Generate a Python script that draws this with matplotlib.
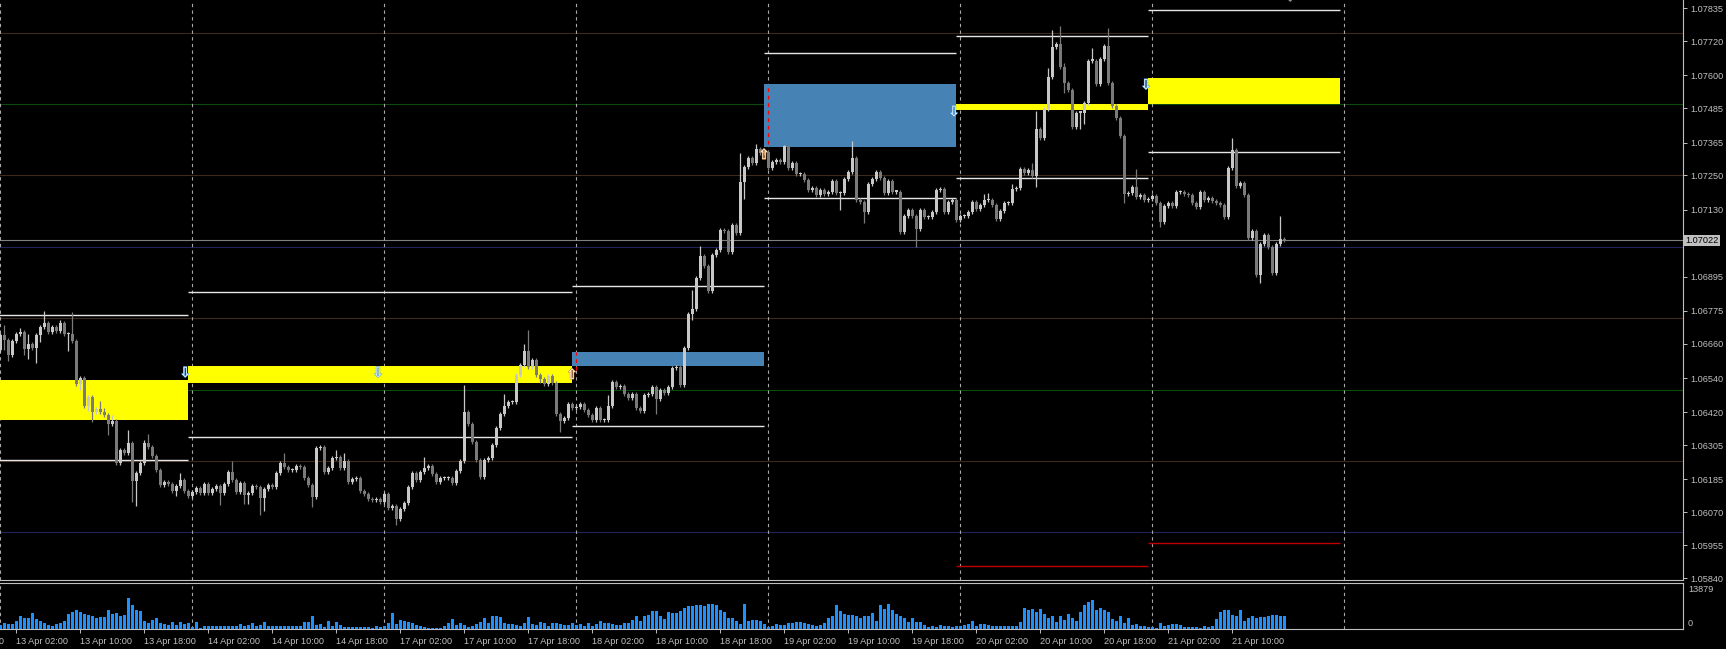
import numpy as np
import matplotlib.pyplot as plt
import matplotlib.patheffects as pe
from matplotlib.transforms import blended_transform_factory

plt.rcParams['font.family'] = ['Liberation Sans', 'DejaVu Sans']

W, H = 1726, 649

# EURUSD M30, closes in pips above 1.0600, open = previous close
base = 1.0600
first_open = 64.0
closes = [
    69.1, 67.5, 62.0, 66.9, 69.6, 70.2, 64.1, 65.9, 64.4, 69.1, 72.0, 73.4, 70.0, 72.0, 70.4, 73.2,
    69.3, 69.3, 66.9, 52.1, 53.9, 44.3, 47.5, 42.2, 43.1, 42.0, 41.0, 38.1, 39.1, 24.4, 28.8, 27.9,
    31.1, 18.0, 20.9, 24.1, 31.1, 30.0, 26.7, 21.8, 16.5, 17.7, 16.9, 14.4, 16.2, 18.3, 14.4, 12.8,
    14.2, 15.4, 13.6, 16.9, 13.6, 15.0, 16.2, 13.6, 16.9, 21.2, 18.3, 14.0, 17.3, 13.0, 13.6, 16.2,
    15.7, 12.1, 15.0, 16.5, 15.9, 20.6, 24.1, 23.0, 21.8, 21.8, 23.3, 22.7, 18.9, 16.5, 12.4, 29.4,
    29.7, 21.2, 22.4, 25.9, 26.5, 22.4, 25.0, 17.7, 18.6, 18.9, 14.4, 13.4, 11.6, 11.3, 11.6, 10.7,
    13.4, 8.6, 9.2, 4.6, 8.1, 10.3, 15.7, 20.6, 18.3, 21.2, 22.4, 23.3, 20.4, 17.7, 19.1, 19.1,
    19.1, 17.3, 21.4, 24.9, 42.0, 38.1, 31.7, 25.3, 19.5, 25.3, 26.1, 30.5, 36.6, 41.4, 44.2, 45.7,
    45.7, 55.0, 58.5, 63.4, 58.0, 60.3, 55.0, 53.6, 52.1, 54.7, 52.4, 41.4, 39.1, 39.9, 45.1, 43.4,
    44.0, 45.1, 42.8, 41.0, 39.3, 43.7, 39.3, 39.3, 44.2, 52.7, 51.0, 51.2, 48.4, 46.9, 48.6, 43.7,
    42.4, 48.0, 48.6, 51.0, 46.6, 49.9, 48.7, 51.0, 57.5, 58.0, 51.6, 64.5, 76.5, 78.1, 89.0, 96.8,
    93.1, 84.5, 97.1, 98.9, 105.9, 105.5, 98.3, 107.6, 104.7, 122.8, 127.8, 131.0, 129.2, 134.2, 132.7, 133.3,
    127.7, 129.8, 130.4, 129.8, 135.1, 127.5, 129.2, 125.5, 125.5, 123.2, 119.7, 120.5, 118.1, 119.9, 118.5, 119.0,
    123.0, 118.7, 118.7, 123.6, 126.0, 131.0, 116.4, 115.5, 112.3, 122.0, 123.6, 126.3, 124.0, 118.7, 123.0, 119.3,
    119.3, 105.0, 110.8, 112.9, 110.6, 106.2, 112.9, 110.3, 110.3, 112.3, 119.9, 120.1, 112.0, 115.8, 116.4, 109.2,
    110.8, 110.8, 112.3, 115.8, 113.1, 114.6, 116.4, 116.4, 114.6, 109.7, 112.6, 115.4, 115.4, 120.2, 120.7, 127.1,
    125.9, 126.9, 124.9, 141.2, 138.0, 148.1, 159.3, 169.8, 171.0, 162.8, 157.2, 154.9, 142.1, 147.0, 147.0, 150.2,
    165.2, 165.2, 157.0, 165.7, 170.3, 157.2, 149.4, 145.2, 138.9, 118.4, 118.7, 121.0, 117.5, 118.2, 116.4, 116.6,
    117.8, 115.2, 108.8, 114.3, 115.2, 114.3, 119.0, 119.0, 118.5, 118.1, 115.2, 114.0, 119.3, 116.4, 117.0, 116.1,
    115.2, 114.6, 110.5, 127.7, 133.9, 121.4, 122.4, 118.1, 103.0, 105.5, 90.1, 101.0, 104.1, 100.0, 90.9, 101.0,
    102.6, 102.2,
]
# longer shadows (pips beyond the body), the rest use typical_wick
upper_wick = {1: 3.5, 5: 1.5, 7: 3.5, 11: 4, 15: 1, 18: 8, 25: 3, 26: 1.6, 28: 2, 32: 4.9, 36: 1.2,
              37: 3.2, 45: 2.3, 58: 3.6, 70: 1, 71: 3.5, 84: 2.3, 86: 2.8, 106: 3.9, 116: 9.6, 126: 4.4,
              131: 2.7, 132: 7.4, 152: 3.9, 173: 6.8, 175: 3.3, 185: 10, 189: 1.8, 213: 6.2, 246: 2.1,
              247: 2.3, 253: 1.8, 258: 2.3, 259: 6.3, 262: 3.2, 263: 6.1, 265: 6.3, 266: 1.6, 273: 4.3,
              277: 6.2, 284: 6.2, 308: 4.3, 320: 8}
lower_wick = {1: 3.7, 2: 2, 6: 2, 7: 3.3, 9: 5, 10: 2.6, 17: 5.7, 20: 2.3, 22: 1.8, 23: 3.5, 27: 3.9,
              33: 7.4, 34: 8.9, 44: 1.8, 55: 3.9, 61: 3.2, 62: 3.2, 65: 6.1, 66: 4.6, 78: 3.7, 99: 1.9,
              135: 1.3, 140: 3.9, 164: 5.2, 173: 2, 186: 6, 210: 6, 216: 4, 229: 6.4, 259: 4.1, 266: 3.5,
              270: 5.8, 271: 3.9, 281: 3.2, 290: 1.8, 315: 2.7}
typical_wick = 0.7

volumes = [
    1270, 1780, 1520, 1520, 2290, 3810, 3430, 3430, 4830, 3050, 2540, 1910, 1270, 1020, 1520, 1780,
    2290, 4570, 5080, 5590, 5080, 4570, 4190, 3810, 3430, 3560, 3560, 5590, 4450, 4830, 3810, 4190,
    9400, 7110, 5840, 5330, 2540, 1910, 2790, 3430, 1910, 1400, 1270, 2160, 1270, 2030, 1400, 1780,
    510, 2030, 380, 760, 760, 760, 760, 760, 760, 1020, 760, 760, 1520, 760, 1270, 1780,
    1020, 1270, 2030, 1020, 1020, 1020, 760, 760, 760, 760, 760, 1020, 2030, 2030, 3810, 1270,
    1520, 510, 2540, 760, 2030, 1270, 510, 510, 510, 510, 510, 510, 510, 250, 760, 510,
    760, 1780, 4830, 1520, 2790, 2290, 2030, 1780, 1270, 760, 640, 380, 380, 380, 380, 1020,
    1780, 3050, 1270, 1780, 1270, 510, 1020, 1520, 2030, 3300, 1780, 3810, 3810, 3560, 1780, 1520,
    1520, 1270, 1020, 1780, 3560, 1520, 1270, 2030, 1780, 1020, 1780, 1780, 1520, 1270, 1270, 1780,
    1270, 1520, 1020, 1780, 1020, 1520, 2290, 1780, 1780, 1520, 1270, 1270, 1780, 1780, 2790, 3810,
    2540, 3810, 4320, 5330, 5330, 3810, 3050, 5080, 4830, 4830, 5330, 6350, 6860, 6860, 7110, 7370,
    6860, 7620, 7620, 7110, 5840, 5080, 3300, 3300, 2290, 1520, 7620, 2290, 2790, 2790, 2540, 1520,
    510, 760, 1520, 1270, 1270, 1780, 1780, 2030, 2030, 1780, 1520, 1270, 1020, 1270, 1780, 3300,
    4060, 7110, 5330, 4570, 4320, 4320, 4060, 3300, 3810, 3810, 4830, 2540, 7370, 6100, 7620, 5590,
    4570, 4060, 3300, 2030, 3300, 2030, 2030, 1270, 510, 760, 510, 1270, 1020, 760, 510, 1020,
    760, 1270, 1520, 2290, 1020, 1520, 1520, 1270, 1020, 760, 760, 760, 760, 760, 1020, 2030,
    6350, 5590, 6100, 5080, 6100, 4570, 3300, 3810, 2030, 3810, 2790, 4570, 3300, 2540, 5080, 7370,
    8130, 8890, 5840, 6350, 5590, 5080, 3050, 2540, 4060, 1780, 3300, 1270, 1520, 760, 760, 510,
    510, 250, 1780, 1020, 1270, 1520, 1520, 1270, 510, 510, 510, 510, 250, 760, 510, 1020,
    3050, 5080, 5590, 5590, 4320, 3810, 5590, 2540, 3300, 3810, 3300, 3560, 3560, 3810, 4320, 4320,
    3810, 4060,
]
vol_max = 13879

day_starts = [0, 48, 96, 144, 192, 240, 288, 336]
label_bars = [-12, 4, 20, 36, 52, 68, 84, 100, 116, 132, 148, 164, 180, 196, 212, 228, 244, 260, 276, 292, 308]
label_text = ['12 Apr 18:00', '13 Apr 02:00', '13 Apr 10:00', '13 Apr 18:00', '14 Apr 02:00', '14 Apr 10:00',
              '14 Apr 18:00', '17 Apr 02:00', '17 Apr 10:00', '17 Apr 18:00', '18 Apr 02:00', '18 Apr 10:00',
              '18 Apr 18:00', '19 Apr 02:00', '19 Apr 10:00', '19 Apr 18:00', '20 Apr 02:00', '20 Apr 10:00',
              '20 Apr 18:00', '21 Apr 02:00', '21 Apr 10:00']

price_ticks = [1.07835, 1.07720, 1.07600, 1.07485, 1.07365, 1.07250, 1.07130, 1.06895, 1.06775,
               1.06660, 1.06540, 1.06420, 1.06305, 1.06185, 1.06070, 1.05955, 1.05840]
current_price = 1.07022

levels_brown = [1.0775, 1.0725, 1.0675, 1.0625]
levels_green = [1.0750, 1.0650]
levels_navy = [1.0700, 1.0600]

# daily boxes (bar range), previous range lines and zones
seg_edges = [-1, 46.9, 142.9, 190.9, 238.9, 286.9, 334.9]
seg_high = [1.06760, 1.06843, 1.06862, 1.07679, 1.07737, 1.07828]
seg_low = [1.06252, 1.06333, 1.06372, 1.07170, 1.07240, 1.07331]
zone_top = [1.06533, 1.06582, 1.06632, 1.07570, 1.07499, 1.07591]
zone_bot = [1.06393, 1.06524, 1.06583, 1.07349, 1.07479, 1.07500]
zone_color = ['#ffff00', '#ffff00', '#4682b4', '#4682b4', '#ffff00', '#ffff00']
red_level = {4: 1.05882, 5: 1.05963}
red_marks = [(143.9, 1.06632, 1.06570), (191.9, 1.07570, 1.07360)]

arrow_bar = [46.2, 94.4, 142.9, 190.9, 238.4, 286.4]
arrow_price = [1.06558, 1.06558, 1.06551, 1.07321, 1.07472, 1.07566]
arrow_up = [False, False, True, True, False, False]

# ---------------------------------------------------------------
axis_col = '#c0c0c0'
fig = plt.figure(figsize=(W / 100, H / 100), dpi=100, facecolor='black')
ax = fig.add_axes([0, 69 / H, 1683 / W, 580 / H], facecolor='black')
axv = fig.add_axes([0, 20 / H, 1683 / W, 46 / H], facecolor='black')

xmin, xmax = -0.1, -0.1 + 1683 / 4
for a in (ax, axv):
    a.set_xlim(xmin, xmax)
    for s in a.spines.values():
        s.set_color(axis_col)
        s.set_linewidth(0.8)
    a.spines['left'].set_visible(False)
ax.spines['top'].set_visible(False)
ax.set_ylim(1.05833, 1.07864)
axv.set_ylim(0, vol_max)

# round levels
for lv in levels_brown:
    ax.axhline(lv, color='#3c2a1c', lw=0.8, zorder=1)
for lv in levels_green:
    ax.axhline(lv, color='#0c4a0c', lw=0.8, zorder=1)
for lv in levels_navy:
    ax.axhline(lv, color='#24245a', lw=0.8, zorder=1)
ax.axhline(current_price, color='#808080', lw=0.8, zorder=1)

# zones and range lines
for i in range(len(seg_high)):
    x0, x1 = seg_edges[i], seg_edges[i + 1]
    ax.fill_between([x0, x1], zone_bot[i], zone_top[i], color=zone_color[i], lw=0, zorder=2)
    ax.hlines([seg_high[i], seg_low[i]], x0, x1, color='#e6e6e6', lw=1.0, zorder=3)
    if i in red_level:
        ax.hlines(red_level[i], x0, x1, color='#c00000', lw=1.0, zorder=3)
for xb, y0, y1 in red_marks:
    ax.vlines(xb, y1, y0, color='#ff0000', lw=0.9, linestyles=(0, (3, 3)), zorder=3)

# day separators
for a in (ax, axv):
    for d in day_starts:
        a.axvline(d, color='#a8a8a8', lw=0.8, ls=(0, (3, 3)), zorder=1.5)

# candles
c = base + np.array(closes) / 1e4
o = np.r_[base + first_open / 1e4, c[:-1]]
n = len(c)
x = np.arange(n)
uw = np.array([upper_wick.get(i, typical_wick) for i in range(n)]) / 1e4
lw_ = np.array([lower_wick.get(i, typical_wick) for i in range(n)]) / 1e4
hi = np.maximum(o, c) + uw
lo = np.minimum(o, c) - lw_
bull = c >= o
col = np.where(bull, '#c8c8c8', '#7a7a7a')
ax.vlines(x, lo, hi, colors=col, lw=0.9, zorder=4)
body = np.maximum(np.abs(c - o), 0.00004)
ax.bar(x, body, bottom=np.minimum(o, c), width=0.75, color=col, lw=0, zorder=5)

# arrows
for xb, yp, up in zip(arrow_bar, arrow_price, arrow_up):
    ax.text(xb, yp, '\u21e7' if up else '\u21e9', fontsize=10, color='white', ha='center', va='center',
            family='DejaVu Sans', zorder=6,
            path_effects=[pe.withStroke(linewidth=0.8, foreground='#d08030' if up else '#4a9ae0')])
ax.text(322.4, 1.07864, '\u25c6', fontsize=6, color='#909090', ha='center', va='center', zorder=6)

# price scale
ax.yaxis.tick_right()
ax.set_yticks(price_ticks)
ax.set_yticklabels([f'{p:.5f}' for p in price_ticks])
ax.tick_params(axis='y', colors=axis_col, length=3, width=0.7, labelsize=6.6, pad=2)
ax.tick_params(axis='x', bottom=False, labelbottom=False)
ax.text(1.0015, current_price, f'{current_price:.5f}', transform=blended_transform_factory(ax.transAxes, ax.transData),
        fontsize=6.6, color='black', ha='left', va='center',
        bbox=dict(boxstyle='square,pad=0.15', fc='#c0c0c0', ec='none'))

# volumes
axv.bar(x, volumes, width=0.75, color='#1e90ff', lw=0, zorder=3)
axv.set_yticks([])
axv.set_xticks([b for b in label_bars if b >= 0])
axv.tick_params(axis='x', length=3, width=0.7, color=axis_col, labelbottom=False)
trans = blended_transform_factory(axv.transData, axv.transAxes)
for b, t in zip(label_bars, label_text):
    axv.text(b - 0.1, -0.17, t, transform=trans, fontsize=6.6, color=axis_col, ha='left', va='top', clip_on=False)
fig.text(1688 / W, 1 - 589 / H, str(vol_max), fontsize=6.6, color=axis_col, ha='left', va='center')
fig.text(1688 / W, 1 - 623 / H, '0', fontsize=6.6, color=axis_col, ha='left', va='center')

fig.savefig('out.png', dpi=100, facecolor='black')
